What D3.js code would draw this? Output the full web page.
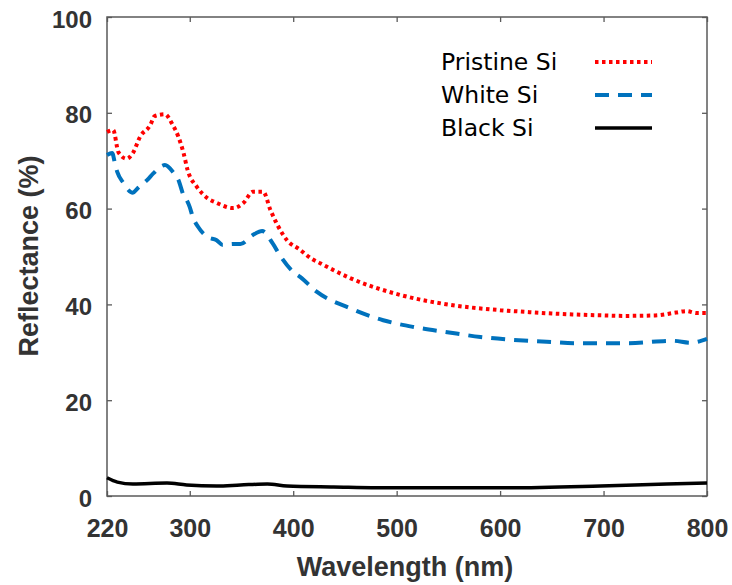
<!DOCTYPE html>
<html>
<head>
<meta charset="utf-8">
<script src="https://cdn.jsdelivr.net/npm/d3@7"></script>
<style>
  body { margin: 0; background: #fff; }
  svg { display: block; }
</style>
</head>
<body>
<svg class="chart"></svg>
<script>
// tick labels
var xTicks = [220, 300, 400, 500, 600, 700, 800];
var yTicks = [0, 20, 40, 60, 80, 100];

// series names
var seriesNames = ["Pristine Si", "White Si", "Black Si"];

// Pristine Si (wavelength nm, reflectance %)
var pristineNm = [220, 226, 231, 239, 245, 252, 262, 266, 276, 283, 289, 294, 298, 307, 317, 326, 342, 352, 361, 371, 378, 385, 394, 406, 418, 426, 455, 503, 552, 600, 620, 650, 700, 720, 750, 770, 780, 790, 800];
var pristineR = [76.0, 76.4, 71.8, 70.4, 71.6, 75.0, 77.5, 79.3, 79.7, 77.7, 75.0, 71.6, 68.0, 64.5, 62.2, 61.2, 60.1, 61.2, 63.5, 63.5, 59.7, 56.5, 53.4, 51.5, 49.5, 48.6, 45.5, 42.0, 39.9, 38.8, 38.5, 38.1, 37.7, 37.6, 37.7, 38.3, 38.6, 38.2, 38.2];

// White Si
var whiteNm = [220, 225, 228, 230, 236, 239, 245, 249, 259, 265, 273, 276, 284, 289, 294, 297, 300, 303, 308, 317, 326, 332, 342, 349, 361, 370, 380, 387, 400, 407, 423, 455, 487, 516, 549, 581, 613, 645, 677, 723, 767, 784, 800];
var whiteR = [71.2, 71.6, 69.1, 67.6, 65.3, 64.3, 63.3, 64.1, 66.0, 67.4, 68.9, 69.1, 67.6, 66.0, 62.8, 61.8, 60.3, 58.2, 56.2, 54.1, 53.4, 52.4, 52.6, 52.6, 54.5, 55.3, 52.8, 50.3, 46.8, 45.7, 42.6, 39.2, 36.7, 35.3, 34.2, 33.2, 32.6, 32.2, 31.9, 31.9, 32.4, 32.0, 32.8];

// Black Si
var blackNm = [220, 230, 245, 278, 297, 326, 349, 375, 394, 439, 503, 600, 697, 761, 800];
var blackR = [3.8, 2.9, 2.5, 2.7, 2.3, 2.1, 2.3, 2.5, 2.1, 1.9, 1.7, 1.7, 2.1, 2.5, 2.7];

var seriesColors = ["#ff0000", "#0072bd", "#000000"];
var seriesDash = ["3.5,3.5", "14,9", null];

var width = 732, height = 585;
var axisColor = "#5a5a5a";
var labelColor = "#333";

var svg = d3.select("svg.chart")
            .attr("width", width)
            .attr("height", height);

var x = d3.scaleLinear().domain([220, 800]).range([107, 707]);
var y = d3.scaleLinear().domain([0, 100]).range([496, 17]);

//Axes (ticks point inward)
var bottom = svg.append("g")
    .attr("transform", "translate(0," + y(0) + ")")
    .call(d3.axisBottom(x).tickValues(xTicks).tickSizeInner(-5).tickSizeOuter(0));
bottom.selectAll("text").attr("y", 41).attr("dy", null);

var top = svg.append("g")
    .attr("transform", "translate(0," + y(100) + ")")
    .call(d3.axisTop(x).tickValues(xTicks).tickSizeInner(-5).tickSizeOuter(0).tickFormat(""));

var left = svg.append("g")
    .attr("transform", "translate(" + x(220) + ",0)")
    .call(d3.axisLeft(y).tickValues(yTicks).tickSizeInner(-5).tickSizeOuter(0));
left.selectAll("text").attr("x", -15).attr("dy", "0.42em");

var right = svg.append("g")
    .attr("transform", "translate(" + x(800) + ",0)")
    .call(d3.axisRight(y).tickValues(yTicks).tickSizeInner(-5).tickSizeOuter(0).tickFormat(""));

svg.selectAll(".domain").remove();
svg.selectAll(".tick line").attr("stroke", axisColor).attr("stroke-width", 1.3);
svg.selectAll(".tick text")
   .style("font-family", "Liberation Sans, Arial, sans-serif")
   .style("font-weight", "bold")
   .style("font-size", "24px")
   .attr("fill", labelColor);
bottom.selectAll("text").style("font-size", "25px");

//Box
svg.append("rect")
   .attr("x", x(220))
   .attr("y", y(100))
   .attr("width", x(800) - x(220))
   .attr("height", y(0) - y(100))
   .attr("fill", "none")
   .attr("stroke", axisColor)
   .attr("stroke-width", 1.5);

//Lines
var line = d3.line()
    .x(function(d) { return x(d[0]); })
    .y(function(d) { return y(d[1]); })
    .curve(d3.curveMonotoneX);

var series = [
  d3.zip(pristineNm, pristineR),
  d3.zip(whiteNm, whiteR),
  d3.zip(blackNm, blackR)
];

series.forEach(function(pts, i) {
  svg.append("path")
     .datum(pts)
     .attr("d", line)
     .attr("fill", "none")
     .attr("stroke", seriesColors[i])
     .attr("stroke-width", i === 2 ? 3.5 : 4)
     .attr("stroke-dasharray", seriesDash[i]);
});

//Axis titles
drawText(svg, 405, 576, "Wavelength (nm)", "bold", 27, "middle", labelColor, "Liberation Sans, Arial, sans-serif");
svg.append("text")
   .attr("transform", "translate(38,256) rotate(-90)")
   .attr("text-anchor", "middle")
   .style("font-family", "Liberation Sans, Arial, sans-serif")
   .style("font-weight", "bold")
   .style("font-size", "27px")
   .attr("fill", labelColor)
   .text("Reflectance (%)");

//Legend
seriesNames.forEach(function(name, i) {
  var rowY = 62 + i * 33;
  drawText(svg, 441, rowY + 8, name, "normal", 23.5, "start", "#000", "DejaVu Sans, sans-serif");
  svg.append("line")
     .attr("x1", 595).attr("x2", 652)
     .attr("y1", rowY).attr("y2", rowY)
     .attr("stroke", seriesColors[i])
     .attr("stroke-width", i === 2 ? 3.5 : 4)
     .attr("stroke-dasharray", seriesDash[i]);
});

function drawText(container, x_axis, y_axis, text, font_weight, size, anchor, color, family) {
  container.append("text")
           .attr("x", x_axis)
           .attr("y", y_axis)
           .attr("text-anchor", anchor)
           .attr("fill", color)
           .style("font-family", family)
           .style("font-weight", font_weight)
           .style("font-size", size + "px")
           .text(text);
}
</script>
</body>
</html>
